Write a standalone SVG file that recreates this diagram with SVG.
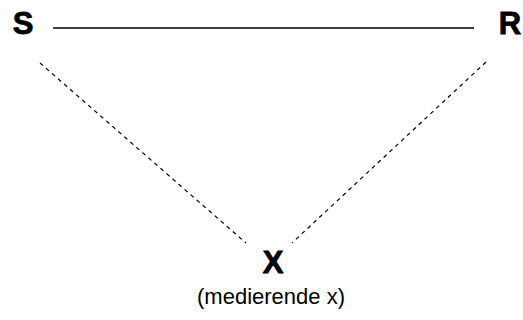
<svg xmlns="http://www.w3.org/2000/svg" width="523" height="320" viewBox="0 0 523 320">
<style>
.lbl{font-family:"Liberation Sans",Arial,sans-serif;font-weight:bold;font-size:31px;fill:#000;stroke:#000;stroke-width:0.8}
.sub{font-family:"Liberation Sans",Arial,sans-serif;font-size:22px;fill:#000}
.solid{stroke:#000;stroke-width:1.6;fill:none}
.dash{stroke:#000;stroke-width:1.2;stroke-dasharray:4 4;fill:none}
</style>
<rect width="523" height="320" fill="#fff"/>
<g id="connectors">
<line class="solid" x1="53" y1="28" x2="474" y2="28"/>
<line class="dash" x1="40" y1="63" x2="246" y2="243"/>
<line class="dash" x1="486" y1="62" x2="292" y2="243"/>
</g>
<g id="S"><text class="lbl" x="23" y="34" text-anchor="middle">S</text></g>
<g id="R"><text class="lbl" x="510" y="34" text-anchor="middle">R</text></g>
<g id="X">
<text class="lbl" x="273" y="273" text-anchor="middle">X</text>
<text class="sub" x="271" y="304" text-anchor="middle">(medierende x)</text>
</g>
</svg>
